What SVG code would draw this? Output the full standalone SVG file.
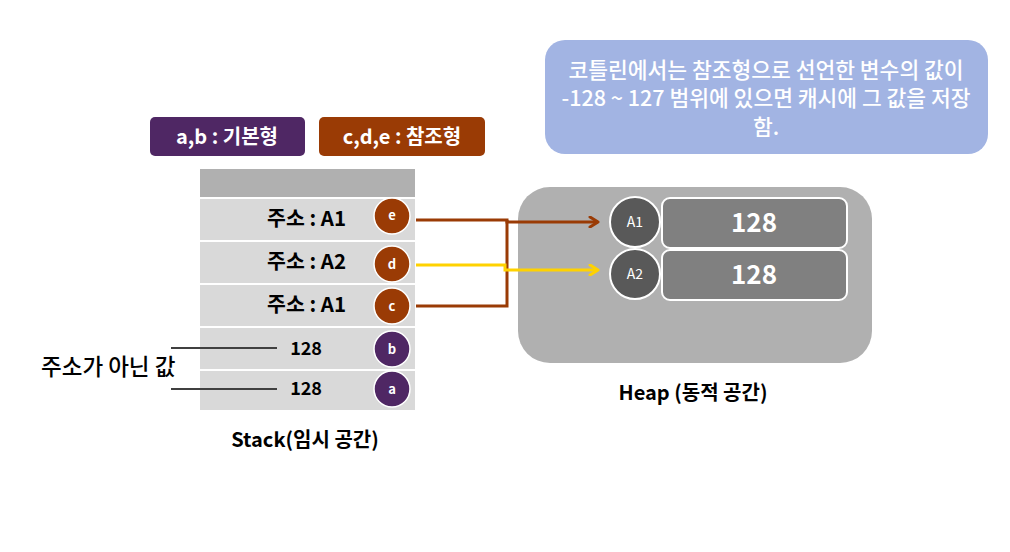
<svg xmlns="http://www.w3.org/2000/svg" width="1010" height="552" viewBox="0 0 1010 552">
<defs>
<style>
text{font-family:"Noto Sans CJK KR","Liberation Sans",sans-serif;}
.lbl{fill:#fff;font-size:20px;font-weight:bold;text-anchor:middle;}
.row{fill:#d9d9d9;}
.rt{fill:#000;font-size:20.5px;font-weight:bold;text-anchor:end;}
.rn{fill:#000;font-size:18px;font-weight:bold;text-anchor:end;}
.cb{fill:#9a3b05;stroke:#fff;stroke-width:1.5;}
.cp{fill:#4f2764;stroke:#fff;stroke-width:1.5;}
.ct{fill:#fff;font-size:13px;font-weight:bold;text-anchor:middle;}
.hc{fill:#595959;stroke:#fff;stroke-width:2;}
.hb{fill:#808080;stroke:#fff;stroke-width:2;}
.hv{fill:#fff;font-size:26px;font-weight:bold;text-anchor:middle;}
.ht{fill:#fff;font-size:14px;text-anchor:middle;}
.cap{fill:#000;font-size:20px;font-weight:bold;text-anchor:middle;}
.info{fill:#fff;font-size:21.5px;font-weight:500;text-anchor:middle;}
</style>
<marker id="ab" markerWidth="12" markerHeight="12" refX="10" refY="6" orient="auto" markerUnits="userSpaceOnUse"><polyline points="2,1 10,6 2,11" fill="none" stroke="#9a3b05" stroke-width="3" stroke-linecap="round" stroke-linejoin="round"/></marker>
<marker id="ay" markerWidth="12" markerHeight="12" refX="10" refY="6" orient="auto" markerUnits="userSpaceOnUse"><polyline points="2,1 10,6 2,11" fill="none" stroke="#ffd200" stroke-width="3" stroke-linecap="round" stroke-linejoin="round"/></marker>
</defs>

<g id="info">
<rect x="545" y="40" width="443" height="114" rx="20" fill="#a2b4e3"/>
<text class="info" x="766" y="78">코틀린에서는 참조형으로 선언한 변수의 값이</text>
<text class="info" x="766" y="106">-128 ~ 127 범위에 있으면 캐시에 그 값을 저장</text>
<text class="info" x="766" y="135">함.</text>
</g>

<g id="legend-basic">
<rect x="150" y="117" width="155" height="39" rx="5" fill="#4f2764"/>
<text class="lbl" x="227" y="144">a,b : 기본형</text>
</g>
<g id="legend-ref">
<rect x="319" y="117" width="166" height="39" rx="5" fill="#9a3b05"/>
<text class="lbl" x="402" y="144">c,d,e : 참조형</text>
</g>

<g id="stack">
<rect x="200" y="169" width="215" height="28" fill="#b0b0b0"/>
<rect class="row" x="200" y="199" width="215" height="41"/>
<rect class="row" x="200" y="242" width="215" height="41"/>
<rect class="row" x="200" y="285" width="215" height="41"/>
<rect class="row" x="200" y="328" width="215" height="41"/>
<rect class="row" x="200" y="371" width="215" height="39"/>
<text class="rt" x="346" y="226">주소 : A1</text>
<text class="rt" x="346" y="269">주소 : A2</text>
<text class="rt" x="346" y="312">주소 : A1</text>
<text class="rn" x="322" y="355">128</text>
<text class="rn" x="322" y="395">128</text>
<text class="cap" x="305" y="447">Stack(임시 공간)</text>
</g>
<g id="e"><circle class="cb" cx="392" cy="216" r="18"/><text class="ct" x="392" y="220">e</text></g>
<g id="d"><circle class="cb" cx="392" cy="264" r="18"/><text class="ct" x="392" y="269">d</text></g>
<g id="c"><circle class="cb" cx="392" cy="306" r="18"/><text class="ct" x="392" y="311">c</text></g>
<g id="b"><circle class="cp" cx="392" cy="349" r="18"/><text class="ct" x="392" y="354">b</text></g>
<g id="a"><circle class="cp" cx="392" cy="389" r="18"/><text class="ct" x="392" y="394">a</text></g>

<g id="heap">
<rect x="518" y="187" width="354" height="176" rx="32" fill="#b0b0b0"/>
<rect class="hb" x="662" y="198" width="185" height="50" rx="8"/>
<rect class="hb" x="662" y="250" width="185" height="50" rx="8"/>
<text class="hv" x="754" y="232">128</text>
<text class="hv" x="754" y="284">128</text>
<text class="cap" x="693" y="400">Heap (동적 공간)</text>
</g>
<g id="A1"><circle class="hc" cx="635" cy="222" r="25"/><text class="ht" x="635" y="227">A1</text></g>
<g id="A2"><circle class="hc" cx="635" cy="274" r="25"/><text class="ht" x="635" y="279">A2</text></g>

<g id="note">
<text x="41" y="375" font-size="22.5" font-weight="500" fill="#000">주소가 아닌 값</text>
</g>

<g id="connectors" fill="none">
<path d="M416,220 H507 V222 H598" stroke="#9a3b05" stroke-width="3" marker-end="url(#ab)"/>
<path d="M416,306 H507 V220" stroke="#9a3b05" stroke-width="3"/>
<path d="M416,265 H505 V270 H598" stroke="#ffd200" stroke-width="3" marker-end="url(#ay)"/>
<path d="M171,348 H277 M171,389 H277" stroke="#404040" stroke-width="2"/>
</g>
</svg>
